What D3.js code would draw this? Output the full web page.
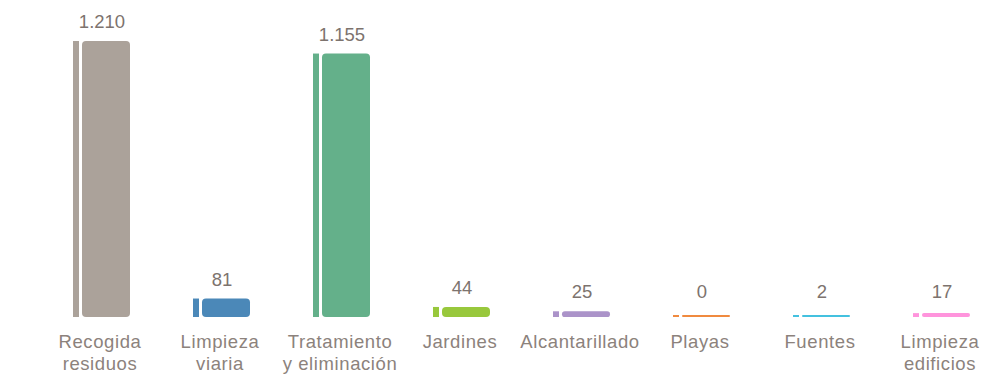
<!DOCTYPE html>
<html><head><meta charset="utf-8">
<script src="https://cdn.jsdelivr.net/npm/d3@7"></script>
<style>
html,body{margin:0;padding:0;background:#fff;}
svg{display:block;}
text{font-family:"Liberation Sans",Arial,sans-serif;}
</style></head>
<body>
<svg id="chart" width="984" height="375"></svg>
<script>
const categories = [["Recogida","residuos"],["Limpieza","viaria"],["Tratamiento","y eliminación"],["Jardines"],["Alcantarillado"],["Playas"],["Fuentes"],["Limpieza","edificios"]];
const values = [1210, 81, 1155, 44, 25, 0, 2, 17];
const valueLabels = ["1.210","81","1.155","44","25","0","2","17"];
const colors = ["#aba29a","#4b88b8","#64b08a","#98c83c","#ab93c9","#f08a3f","#44c1df","#ff94dc"];

const svg = d3.select("#chart");
const x = d3.scaleBand().domain(d3.range(categories.length)).range([40, 1000]).padding(0);
const y = d3.scaleLinear().domain([0, 1210]).range([317, 41]);
const minH = 2;

const g = svg.selectAll("g.cat").data(values).enter().append("g").attr("class","cat")
  .attr("transform", (d,i) => `translate(${x(i)},0)`);

const barTop = d => Math.min(y(d), y(0) - minH);

g.append("rect")
  .attr("x", 33).attr("width", 6)
  .attr("y", d => barTop(d))
  .attr("height", d => y(0) - barTop(d))
  .attr("fill", (d,i) => colors[i]);

g.append("rect")
  .attr("x", 42).attr("width", 48)
  .attr("y", d => barTop(d))
  .attr("height", d => y(0) - barTop(d))
  .attr("rx", d => Math.min(4, (y(0) - barTop(d))/2))
  .attr("fill", (d,i) => colors[i]);

g.append("text")
  .attr("x", 62).attr("text-anchor","middle")
  .attr("y", d => Math.min(barTop(d) - 13, 298))
  .attr("font-size", 18.5).attr("fill", "#7d736e")
  .text((d,i) => valueLabels[i]);

g.each(function(d,i){
  categories[i].forEach((line, k) => {
    d3.select(this).append("text")
      .attr("text-anchor","middle").attr("font-size", 18.5)
      .attr("letter-spacing", 0.6).attr("fill","#8c827c")
      .attr("x", 60).attr("y", 348 + k*22).text(line);
  });
});
</script>
</body></html>
